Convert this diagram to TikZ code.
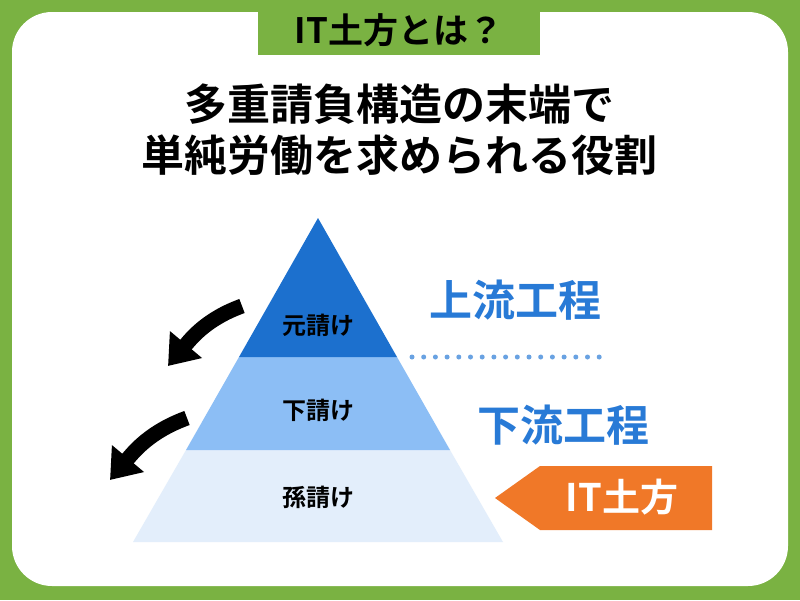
\documentclass[tikz,border=0pt]{standalone}
\usepackage{fontspec}
\setmainfont{Noto Sans CJK JP}[BoldFont={Noto Sans CJK JP Bold}]
\usetikzlibrary{arrows.meta}
\definecolor{leaf}{RGB}{122,178,66}
\definecolor{deepblue}{RGB}{28,112,206}
\definecolor{midblue}{RGB}{140,190,245}
\definecolor{paleblue}{RGB}{227,238,251}
\definecolor{stepblue}{RGB}{40,122,214}
\definecolor{tangerine}{RGB}{240,120,40}
\tikzset{%
  layer label/.style={font=\bfseries\fontsize{24}{24}\selectfont},
  flow label/.style={font=\bfseries\fontsize{43}{43}\selectfont,text=stepblue},
  bent arrow/.style={line width=15pt,-{Triangle[width=40pt,length=28pt]}}
}
\begin{document}
\begin{tikzpicture}[x=1pt,y=-1pt]
  \fill[leaf] (0,0) rectangle (800,600);
  \fill[white,rounded corners=40pt] (12,12) rectangle (788,586);
  \useasboundingbox (0,0) rectangle (800,600);

  \node[fill=leaf,minimum width=282pt,minimum height=50pt,font=\bfseries\fontsize{35}{35}\selectfont] (title) at (399,30) {IT土方とは？};
  \node[font=\bfseries\fontsize{43}{43}\selectfont,align=center] (lead) at (399,130) {多重請負構造の末端で\\[8pt]単純労働を求められる役割};

  % pyramid
  \fill[paleblue] (133,542) -- (503,542) -- (450,450) -- (186,450) -- cycle;
  \fill[midblue] (186,450) -- (450,450) -- (397,357) -- (239,357) -- cycle;
  \fill[deepblue] (239,357) -- (397,357) -- (318,218) -- cycle;
  \node[layer label] (prime) at (318,325) {元請け};
  \node[layer label] (sub) at (318,410) {下請け};
  \node[layer label] (subsub) at (318,497) {孫請け};

  \node[flow label] (upper) at (515,300) {上流工程};
  \node[flow label] (lower) at (563,425) {下流工程};
  \coordinate (dotL) at (412,357);
  \coordinate (dotR) at (600,357);
  \draw[stepblue!70,line width=5pt,line cap=round,dash pattern=on 0pt off 11.7pt] (dotL) -- (dotR);

  % IT doboku tag
  \fill[tangerine] (495,498) -- (540,466) -- (712,466) -- (712,530) -- (540,530) -- cycle;
  \node[font=\bfseries\fontsize{38}{38}\selectfont,text=white] (tag) at (622,497) {IT土方};

  % bent arrows
  \coordinate (a1) at (242,306);
  \coordinate (b1) at (168,366);
  \coordinate (a2) at (187,418);
  \coordinate (b2) at (110,480);
  \draw[bent arrow] (a1) to[out=200,in=50] (b1);
  \draw[bent arrow] (a2) to[out=200,in=50] (b2);
\end{tikzpicture}
\end{document}
